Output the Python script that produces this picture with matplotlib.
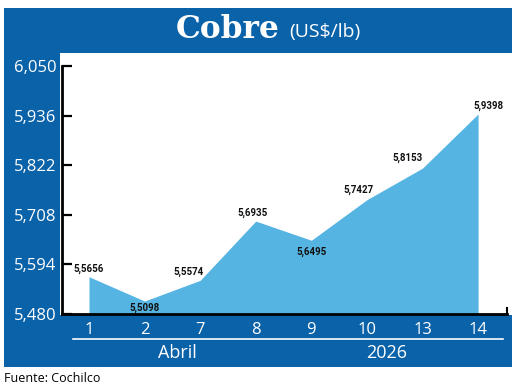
import matplotlib
matplotlib.use("Agg")
import matplotlib.pyplot as plt
from matplotlib.patches import Rectangle
from matplotlib.lines import Line2D
import numpy as np

# datos
dias = ["1", "2", "7", "8", "9", "10", "13", "14"]
precios = [5.5656, 5.5098, 5.5574, 5.6935, 5.6495, 5.7427, 5.8153, 5.9398]
etiquetas = ["5,5656", "5,5098", "5,5574", "5,6935", "5,6495", "5,7427", "5,8153", "5,9398"]
yticks = [5.480, 5.594, 5.708, 5.822, 5.936, 6.050]
ytick_labels = ["5,480", "5,594", "5,708", "5,822", "5,936", "6,050"]

azul = "#0A62A9"
celeste = "#56B4E3"
W, H = 520, 388

fig = plt.figure(figsize=(5.2, 3.88), dpi=100)

def px(x, y, w, h):
    # rect en pixeles (origen arriba-izquierda) -> coords de figura
    return (x / W, 1 - (y + h) / H, w / W, h / H)

# bandas azules
for r in [(4, 8, 508, 45), (4, 53, 56, 314), (4, 315, 508, 52)]:
    x0, y0, w, h = px(*r)
    fig.patches.append(Rectangle((x0, y0), w, h, transform=fig.transFigure,
                                 facecolor=azul, edgecolor="none", zorder=-1))

fig.text(228 / W, 1 - 29 / H, "Cobre", ha="center", va="center", color="white",
         fontsize=22.5, fontweight="bold", family="DejaVu Serif")
fig.text(289 / W, 1 - 32 / H, "(US$/lb)", ha="left", va="center", color="white",
         fontsize=14, family="Open Sans")

ax = fig.add_axes(px(62, 66, 445, 248))
x = np.arange(len(dias))
ax.fill_between(x, precios, yticks[0], color=celeste, linewidth=0, zorder=2)

ax.set_ylim(yticks[0], yticks[-1])
ax.set_xlim(-0.486, 7.52)
ax.set_facecolor("none")
ax.set_yticks(yticks)
ax.set_yticklabels(ytick_labels)
ax.set_xticks(x)
ax.set_xticklabels(dias)
for s in ["top", "right"]:
    ax.spines[s].set_visible(False)
ax.spines["left"].set_linewidth(2)
ax.spines["bottom"].set_linewidth(2)
ax.tick_params(axis="y", direction="in", length=7, width=1.6, pad=4,
               labelcolor="white", labelsize=12)
ax.tick_params(axis="x", length=0, pad=6, labelcolor="white", labelsize=12)
for t in ax.get_xticklabels() + ax.get_yticklabels():
    t.set_family("Open Sans")
ax.plot([1, 1], [0, 0.025], transform=ax.transAxes, color="black", lw=1.5, clip_on=False)

offsets = [(-0.5, 5.8), (0, -5.2), (-8.6, 5.8), (-2, 5.8), (0, -8), (-5.8, 7), (-10.8, 7.5), (7.2, 5.8)]
for xi, yi, lab, off in zip(x, precios, etiquetas, offsets):
    ax.annotate(lab, (xi, yi), xytext=off, textcoords="offset points",
                ha="center", va="center", fontsize=7, fontweight="bold",
                family="Roboto", color="#111111", zorder=5)

# linea blanca y textos inferiores
fig.add_artist(Line2D([73 / W, 503 / W], [1 - 339 / H, 1 - 339 / H],
                      color="white", lw=1.2, transform=fig.transFigure))
fig.text(177 / W, 1 - 353 / H, "Abril", ha="center", va="center", color="white",
         fontsize=13, family="Open Sans")
fig.text(387 / W, 1 - 353 / H, "2026", ha="center", va="center", color="white",
         fontsize=13, family="Open Sans")
fig.text(4 / W, 1 - 378 / H, "Fuente: Cochilco", ha="left", va="center",
         color="black", fontsize=9, family="Open Sans")

fig.savefig("out.png", dpi=100)
